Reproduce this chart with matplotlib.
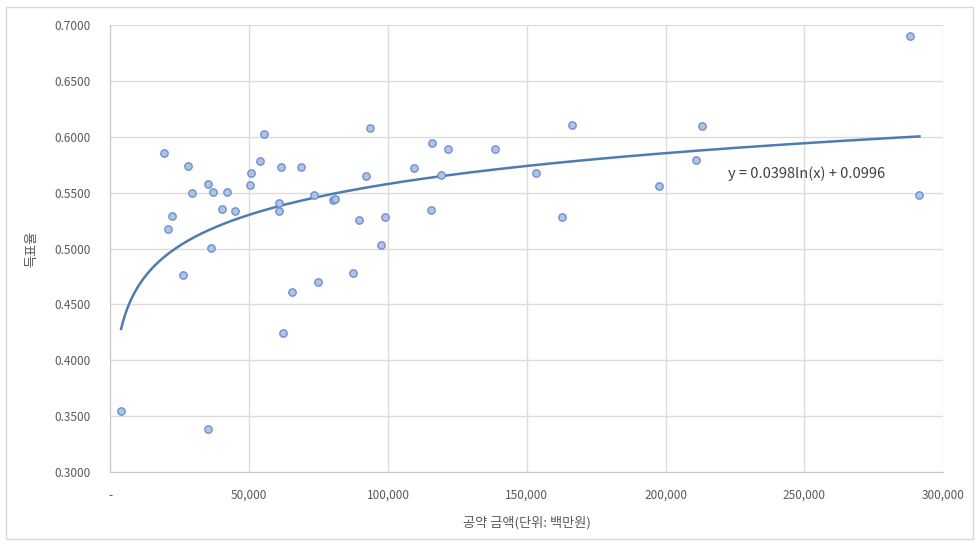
import numpy as np
import matplotlib.pyplot as plt
from matplotlib.patches import Rectangle
from matplotlib.ticker import FuncFormatter, MultipleLocator

plt.rcParams['font.family'] = ['Noto Sans CJK KR', 'DejaVu Sans']

# 공약 금액 (백만원) / 득표율
amount = [3830, 19310, 20640, 22330, 26290, 27850, 29290, 35160, 35300, 36130,
          37100, 40100, 42150, 44780, 50430, 50790, 53780, 55470, 60740, 60740,
          61460, 62320, 65430, 68800, 73230, 74790, 80200, 80900, 87400, 89550,
          92070, 93400, 97370, 98920, 109300, 115400, 115700, 119200, 121800, 138700,
          153300, 162700, 166200, 197600, 211100, 213100, 288200, 291500]
vote_rate = [0.3547, 0.5856, 0.5172, 0.5288, 0.4763, 0.5739, 0.5495, 0.5578, 0.3389, 0.5008,
             0.5504, 0.5354, 0.5504, 0.5333, 0.5566, 0.5674, 0.5781, 0.6021, 0.5408, 0.5333,
             0.5728, 0.4246, 0.4614, 0.5728, 0.5483, 0.4697, 0.5432, 0.5447, 0.4784, 0.5255,
             0.5653, 0.6083, 0.5029, 0.5280, 0.5719, 0.5342, 0.5943, 0.5656, 0.5889, 0.5889,
             0.5674, 0.5280, 0.6104, 0.5557, 0.5793, 0.6095, 0.6901, 0.5483]

# trendline shown on the chart: y = 0.0398ln(x) + 0.0996
trend_a = 0.0398
trend_b = 0.0996

fig = plt.figure(figsize=(9.79, 5.46), dpi=100)
fig.patches.append(Rectangle((0.006, 0.012), 0.988, 0.975, transform=fig.transFigure,
                             fill=False, edgecolor='#d9d9d9', linewidth=1))
ax = fig.add_axes([0.1128, 0.1355, 0.8505, 0.8185])

tx = np.linspace(min(amount), max(amount), 400)
ax.plot(tx, trend_a * np.log(tx) + trend_b, color='#4f7cb0', linewidth=1.8, zorder=3)
ax.scatter(amount, vote_rate, s=28, facecolor='#aec3e6', edgecolor='#7190cc',
           linewidth=1, zorder=4)

ax.text(0.742, 0.667, 'y = 0.0398ln(x) + 0.0996', transform=ax.transAxes,
        fontsize=10.5, color='#404040', ha='left', va='center')

ax.set_xlim(0, 300000)
ax.set_ylim(0.3, 0.7)
ax.xaxis.set_major_locator(MultipleLocator(50000))
ax.yaxis.set_major_locator(MultipleLocator(0.05))
ax.xaxis.set_major_formatter(FuncFormatter(lambda v, p: '-' if v == 0 else f'{int(v):,}'))
ax.yaxis.set_major_formatter(FuncFormatter(lambda v, p: f'{v:.4f}'))
ax.tick_params(length=0, labelsize=8.5, colors='#595959')
ax.tick_params(axis='y', pad=14)
ax.tick_params(axis='x', pad=12)
ax.grid(True, color='#dcdcdc', linewidth=1)
ax.set_axisbelow(True)
for side in ['top', 'right']:
    ax.spines[side].set_visible(False)
for side in ['left', 'bottom']:
    ax.spines[side].set_color('#c8c8c8')

ax.set_xlabel('공약 금액(단위: 백만원)', fontsize=9.5, color='#595959', labelpad=10)
ax.set_ylabel('득표율', fontsize=9.5, color='#595959', labelpad=12)

fig.savefig('out.png', dpi=100)
